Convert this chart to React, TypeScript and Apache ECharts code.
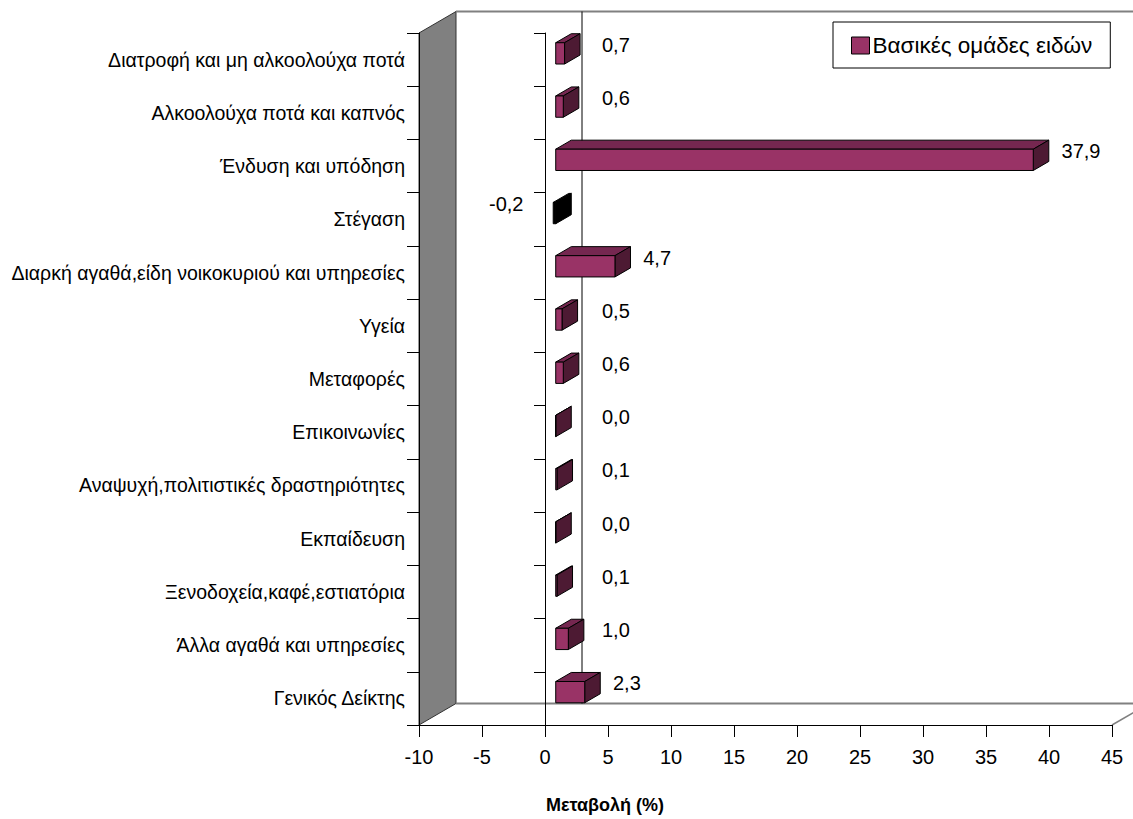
import React, { useEffect, useRef } from 'react';
import * as echarts from 'echarts';

const categories: string[] = [
  'Διατροφή και μη αλκοολούχα ποτά',
  'Αλκοολούχα ποτά και καπνός',
  'Ένδυση και υπόδηση',
  'Στέγαση',
  'Διαρκή αγαθά,είδη νοικοκυριού και υπηρεσίες',
  'Υγεία',
  'Μεταφορές',
  'Επικοινωνίες',
  'Αναψυχή,πολιτιστικές δραστηριότητες',
  'Εκπαίδευση',
  'Ξενοδοχεία,καφέ,εστιατόρια',
  'Άλλα αγαθά και υπηρεσίες',
  'Γενικός Δείκτης',
];

const values: number[] = [0.7, 0.6, 37.9, -0.2, 4.7, 0.5, 0.6, 0.0, 0.1, 0.0, 0.1, 1.0, 2.3];

const VALUE_MIN = -10;
const VALUE_MAX = 45;
const VALUE_STEP = 5;

const SERIES_NAME = 'Βασικές ομάδες ειδών';
const AXIS_TITLE = 'Μεταβολή (%)';

const FONT = "'Liberation Sans', Arial, sans-serif";

const DEPTH_X = 37;
const DEPTH_Y = -21.5;
const BAR_FRONT = 0.29;
const BAR_BACK = 0.71;

const FRONT_COLOR = '#993366';
const TOP_COLOR = '#752750';
const SIDE_COLOR = '#4d1a33';

const fmt = (v: number) => v.toFixed(1).replace('.', ',');

export default function App() {
  const ref = useRef<HTMLDivElement>(null);

  useEffect(() => {
    if (!ref.current) return;
    const chart = echarts.init(ref.current, undefined, { renderer: 'svg' });

    const barData = values.map((v, i) => [v, i]);

    const option: any = {
      animation: false,
      backgroundColor: '#ffffff',
      grid: {
        left: 419,
        top: 33,
        right: 21,
        bottom: 94,
        containLabel: false,
        outerBoundsMode: 'none',
      },
      legend: {
        data: [{ name: SERIES_NAME, itemStyle: { color: FRONT_COLOR, borderColor: '#000', borderWidth: 1 } }],
        left: 833,
        top: 22,
        padding: [12, 18, 11, 18],
        borderColor: '#000',
        borderWidth: 1,
        itemWidth: 18,
        itemHeight: 17,
        itemGap: 4,
        icon: 'rect',
        textStyle: { fontSize: 22.5, fontFamily: FONT, color: '#000', padding: [0, 0, 0, -2] },
        selectedMode: false,
      },
      xAxis: {
        type: 'value',
        min: VALUE_MIN,
        max: VALUE_MAX,
        interval: VALUE_STEP,
        axisLine: { show: true, onZero: false, lineStyle: { color: '#000', width: 1 } },
        axisTick: { show: true, length: 12, lineStyle: { color: '#000' } },
        axisLabel: { fontSize: 20, fontFamily: FONT, color: '#000', margin: 22 },
        splitLine: { show: false },
      },
      yAxis: [
        {
          type: 'category',
          data: categories,
          inverse: true,
          position: 'left',
          axisLine: { show: true, onZero: false, lineStyle: { color: '#000' } },
          axisTick: { show: true, length: 12, lineStyle: { color: '#000' } },
          axisLabel: { fontSize: 19.5, fontFamily: FONT, color: '#000', margin: 14 },
          splitLine: { show: false },
        },
        {
          type: 'category',
          data: categories,
          inverse: true,
          position: 'left',
          axisLine: { show: true, onZero: true, lineStyle: { color: '#000' } },
          axisTick: { show: true, length: 11, lineStyle: { color: '#000' } },
          axisLabel: { show: false },
          splitLine: { show: false },
        },
      ],
      graphic: [
        {
          type: 'text',
          style: {
            text: AXIS_TITLE,
            x: 605,
            y: 805,
            align: 'center',
            verticalAlign: 'middle',
            fontSize: 18,
            fontWeight: 'bold',
            fontFamily: FONT,
            fill: '#000',
          },
        },
      ],
      series: [
        {
          name: 'walls',
          type: 'custom',
          z: -1,
          silent: true,
          clip: false,
          data: [[0, 0]],
          encode: { x: 0, y: 1 },
          renderItem: (params: any, api: any) => {
            const cs = params.coordSys;
            const x = cs.x, y = cs.y, w = cs.width, h = cs.height;
            const zeroX = api.coord([0, 0])[0];
            const gray = '#808080';
            return {
              type: 'group',
              children: [
                {
                  type: 'polygon',
                  shape: {
                    points: [
                      [x, y + h],
                      [x, y],
                      [x + DEPTH_X, y + DEPTH_Y],
                      [x + DEPTH_X, y + h + DEPTH_Y],
                    ],
                  },
                  style: { fill: gray, stroke: '#333', lineWidth: 1 },
                },
                {
                  type: 'line',
                  shape: { x1: x + DEPTH_X, y1: y + DEPTH_Y, x2: x + w + DEPTH_X, y2: y + DEPTH_Y },
                  style: { stroke: gray, lineWidth: 2 },
                },
                {
                  type: 'line',
                  shape: { x1: x + DEPTH_X, y1: y + h + DEPTH_Y, x2: x + w + DEPTH_X, y2: y + h + DEPTH_Y },
                  style: { stroke: gray, lineWidth: 2 },
                },
                {
                  type: 'line',
                  shape: { x1: x + w, y1: y + h, x2: x + w + DEPTH_X, y2: y + h + DEPTH_Y },
                  style: { stroke: gray, lineWidth: 1.5 },
                },
                {
                  type: 'line',
                  shape: { x1: zeroX + DEPTH_X, y1: y + DEPTH_Y, x2: zeroX + DEPTH_X, y2: y + h + DEPTH_Y },
                  style: { stroke: '#000', lineWidth: 1 },
                },
              ],
            };
          },
        },
        {
          name: SERIES_NAME,
          type: 'custom',
          z: 3,
          clip: false,
          itemStyle: { color: FRONT_COLOR, borderColor: '#000', borderWidth: 1 },
          data: barData,
          encode: { x: 0, y: 1 },
          renderItem: (params: any, api: any) => {
            const v = api.value(0);
            const c = api.value(1);
            const p0 = api.coord([0, c]);
            const p1 = api.coord([v, c]);
            const band = api.size([0, 1])[1];
            const hh = band * 0.4;
            const fx = DEPTH_X * BAR_FRONT;
            const fy = DEPTH_Y * BAR_FRONT;
            const dx = DEPTH_X * (BAR_BACK - BAR_FRONT);
            const dy = DEPTH_Y * (BAR_BACK - BAR_FRONT);
            const xl = Math.min(p0[0], p1[0]) + fx;
            const xr = Math.max(p0[0], p1[0]) + fx;
            const yt = p0[1] - hh / 2 + fy;
            const yb = p0[1] + hh / 2 + fy;
            const neg = v < 0;
            const front = neg ? '#000' : FRONT_COLOR;
            const top = neg ? '#000' : TOP_COLOR;
            const side = neg ? '#000' : SIDE_COLOR;
            const stroke = { stroke: '#000', lineWidth: 1, lineJoin: 'round' };
            const children: any[] = [
              {
                type: 'polygon',
                shape: { points: [[xl, yt], [xr, yt], [xr + dx, yt + dy], [xl + dx, yt + dy]] },
                style: { fill: top, ...stroke },
              },
              {
                type: 'polygon',
                shape: { points: [[xr, yt], [xr + dx, yt + dy], [xr + dx, yb + dy], [xr, yb]] },
                style: { fill: side, ...stroke },
              },
              {
                type: 'polygon',
                shape: { points: [[xl, yt], [xr, yt], [xr, yb], [xl, yb]] },
                style: { fill: front, ...stroke },
              },
            ];
            const ly = p0[1] - 15;
            const labelLeft = Math.max(p0[0] + 57, p1[0] + 39);
            children.push({
              type: 'text',
              style: neg
                ? {
                    text: fmt(v),
                    x: p1[0] - 19,
                    y: ly,
                    align: 'right',
                    verticalAlign: 'middle',
                    fontSize: 20,
                    fontFamily: FONT,
                    fill: '#000',
                  }
                : {
                    text: fmt(v),
                    x: labelLeft,
                    y: ly,
                    align: 'left',
                    verticalAlign: 'middle',
                    fontSize: 20,
                    fontFamily: FONT,
                    fill: '#000',
                  },
            });
            return { type: 'group', children };
          },
        },
      ],
    };

    chart.setOption(option);
    return () => chart.dispose();
  }, []);

  return (
    <div
      ref={ref}
      style={{ position: 'fixed', left: 0, top: 0, width: 1133, height: 819, background: '#fff' }}
    />
  );
}
